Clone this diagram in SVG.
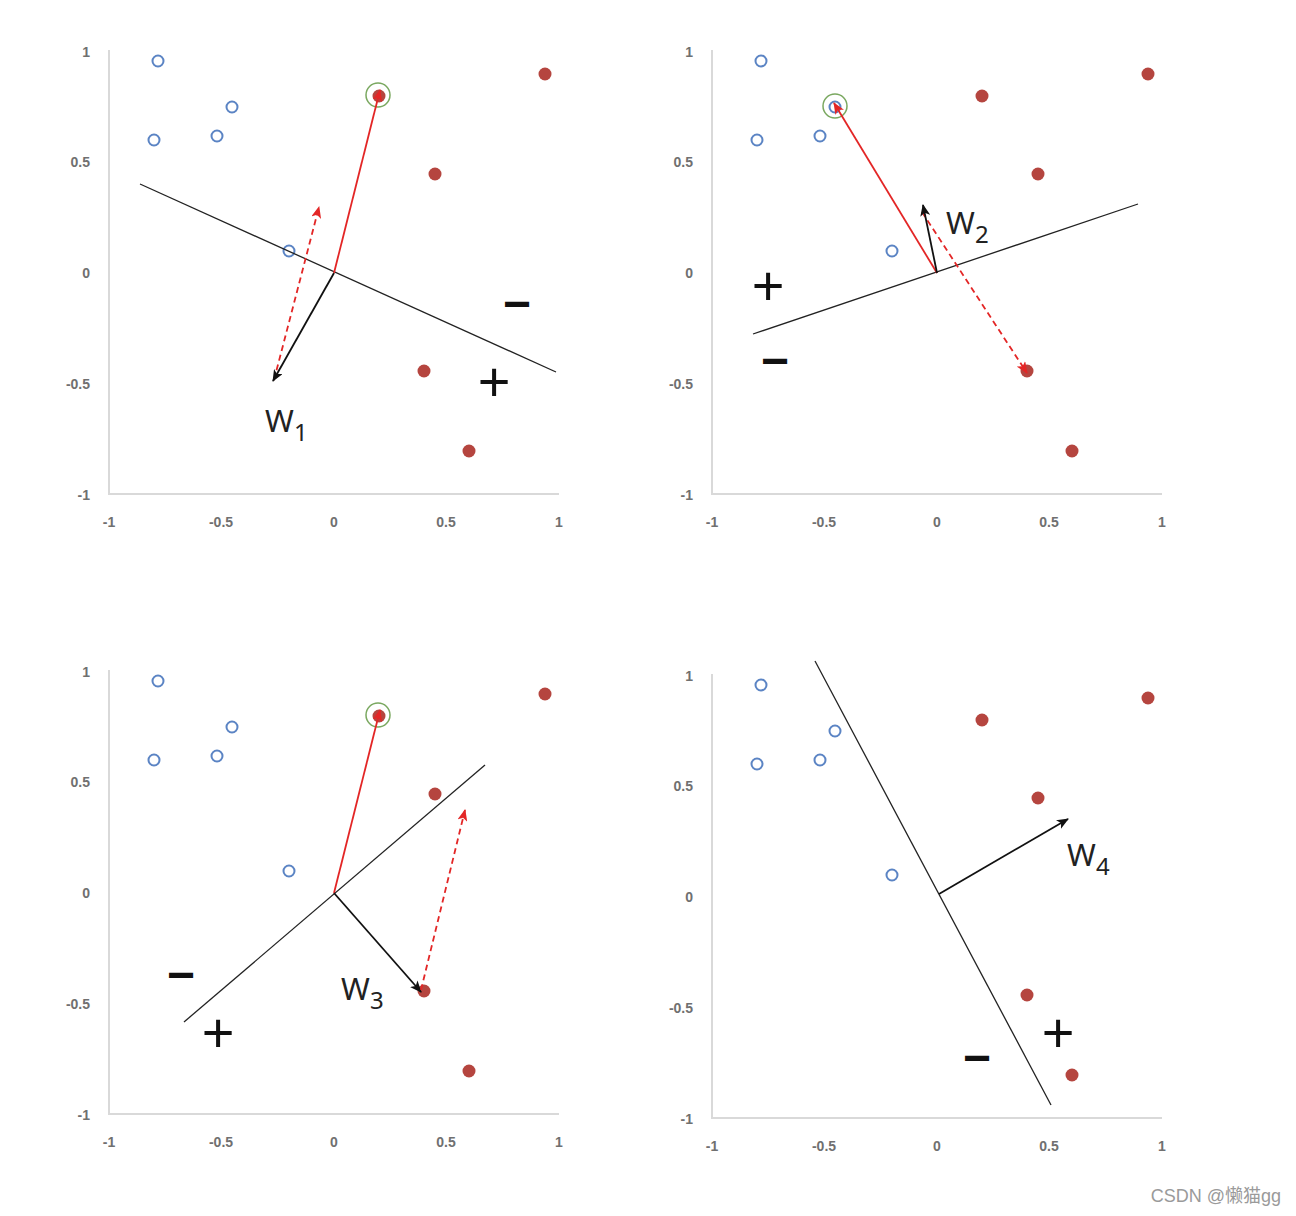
<svg xmlns="http://www.w3.org/2000/svg" width="1296" height="1216" viewBox="0 0 1296 1216">
<defs>
<style>
.ax{stroke:#d9d9d9;stroke-width:2;fill:none}
.tk{font-family:"Liberation Sans",Arial,sans-serif;font-size:14px;font-weight:bold;fill:#707070}
.tx{text-anchor:middle}
.ty{text-anchor:end}
.neg{fill:#fff;stroke:#5b84c4;stroke-width:2}
.pos{fill:#b5453f}
.hl{fill:none;stroke:#7aa860;stroke-width:1.5}
.db{stroke:#222;stroke-width:1.3;fill:none}
.ar{stroke:#e32626;stroke-width:1.8;fill:none}
.ard{stroke:#e32626;stroke-width:1.8;fill:none;stroke-dasharray:6 4}
.ak{stroke:#111;stroke-width:1.8;fill:none}
.w{font-family:"Noto Sans","DejaVu Sans",sans-serif;font-size:31px;fill:#222}
.ws{font-family:"Noto Sans","DejaVu Sans",sans-serif;font-size:24px;fill:#222}
.pl{font-family:"Liberation Sans",Arial,sans-serif;font-size:56px;fill:#111;text-anchor:middle}
.mi{font-family:"Liberation Sans",Arial,sans-serif;font-size:48px;font-weight:bold;fill:#111;text-anchor:middle}
</style>
<marker id="hr" markerUnits="userSpaceOnUse" markerWidth="12" markerHeight="10" refX="11" refY="5" orient="auto"><path d="M0,0 L12,5 L0,10 L3,5 z" fill="#e32626"/></marker>
<marker id="hk" markerUnits="userSpaceOnUse" markerWidth="12" markerHeight="10" refX="11" refY="5" orient="auto"><path d="M0,0 L12,5 L0,10 L3,5 z" fill="#111"/></marker>
<g id="frame">
<line class="ax" x1="109" y1="50" x2="109" y2="494"/>
<line class="ax" x1="108" y1="494" x2="559" y2="494"/>
<text class="tk ty" x="90" y="57">1</text>
<text class="tk ty" x="90" y="167">0.5</text>
<text class="tk ty" x="90" y="278">0</text>
<text class="tk ty" x="90" y="389">-0.5</text>
<text class="tk ty" x="90" y="500">-1</text>
<text class="tk tx" x="109" y="527">-1</text>
<text class="tk tx" x="221" y="527">-0.5</text>
<text class="tk tx" x="334" y="527">0</text>
<text class="tk tx" x="446" y="527">0.5</text>
<text class="tk tx" x="559" y="527">1</text>
</g>
<g id="pts">
<circle class="neg" cx="158" cy="61" r="5.5"/>
<circle class="neg" cx="232" cy="107" r="5.5"/>
<circle class="neg" cx="154" cy="140" r="5.5"/>
<circle class="neg" cx="217" cy="136" r="5.5"/>
<circle class="neg" cx="289" cy="251" r="5.5"/>
<circle class="pos" cx="379" cy="96" r="6.5"/>
<circle class="pos" cx="545" cy="74" r="6.5"/>
<circle class="pos" cx="435" cy="174" r="6.5"/>
<circle class="pos" cx="424" cy="371" r="6.5"/>
<circle class="pos" cx="469" cy="451" r="6.5"/>
</g>
</defs>

<g id="plot1">
<use href="#frame"/>
<use href="#pts"/>
<circle class="hl" cx="378" cy="95" r="12"/>
<g id="connectors1">
<line class="db" x1="140" y1="184" x2="556" y2="372"/>
<line class="ar" x1="334" y1="273" x2="380" y2="90" marker-end="url(#hr)"/>
<line class="ard" x1="274" y1="380" x2="319" y2="207" marker-end="url(#hr)"/>
<line class="ak" x1="334" y1="273" x2="273" y2="381" marker-end="url(#hk)"/>
</g>
<text class="w" x="265" y="432">W</text><text class="ws" x="294" y="441">1</text>
<text class="mi" x="517" y="320">−</text>
<text class="pl" x="494" y="401">+</text>
</g>

<g id="plot2" transform="translate(603,0)">
<use href="#frame"/>
<use href="#pts"/>
<circle class="hl" cx="232" cy="106" r="12"/>
<g id="connectors2">
<line class="db" x1="150" y1="334" x2="535" y2="204"/>
<line class="ar" x1="334" y1="273" x2="231" y2="103" marker-end="url(#hr)"/>
<line class="ard" x1="319" y1="212" x2="424" y2="373" marker-end="url(#hr)"/>
<line class="ak" x1="334" y1="273" x2="320" y2="205" marker-end="url(#hk)"/>
</g>
<text class="w" x="343" y="234">W</text><text class="ws" x="372" y="243">2</text>
<text class="pl" x="165" y="305">+</text>
<text class="mi" x="172" y="377">−</text>
</g>

<g id="plot3" transform="translate(0,620)">
<use href="#frame"/>
<use href="#pts"/>
<circle class="hl" cx="378" cy="95" r="12"/>
<g id="connectors3">
<line class="db" x1="184" y1="402" x2="485" y2="145"/>
<line class="ar" x1="334" y1="273" x2="380" y2="90" marker-end="url(#hr)"/>
<line class="ak" x1="334" y1="273" x2="421" y2="372" marker-end="url(#hk)"/>
<line class="ard" x1="421" y1="370" x2="465" y2="190" marker-end="url(#hr)"/>
</g>
<text class="w" x="341" y="380">W</text><text class="ws" x="370" y="389">3</text>
<text class="mi" x="181" y="371">−</text>
<text class="pl" x="218" y="432">+</text>
</g>

<g id="plot4" transform="translate(603,624)">
<use href="#frame"/>
<use href="#pts"/>
<g id="connectors4">
<line class="db" x1="212" y1="37" x2="448" y2="481"/>
<line class="ak" x1="336" y1="270" x2="465" y2="195" marker-end="url(#hk)"/>
</g>
<text class="w" x="464" y="242">W</text><text class="ws" x="493" y="251">4</text>
<text class="mi" x="374" y="450">−</text>
<text class="pl" x="455" y="428">+</text>
</g>

<text x="1281" y="1202" text-anchor="end" font-family="'Liberation Sans','Noto Sans CJK SC',sans-serif" font-size="18" fill="#9a9a9a">CSDN @懒猫gg</text>
</svg>
